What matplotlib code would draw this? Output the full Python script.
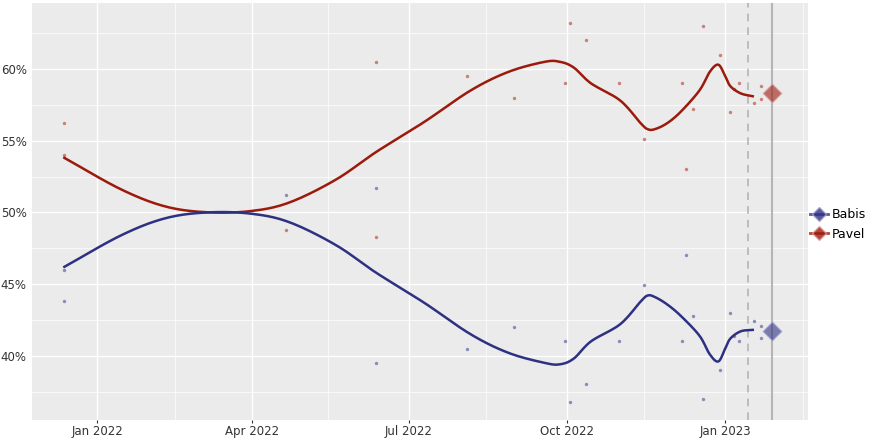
import matplotlib
matplotlib.use("Agg")
import matplotlib.pyplot as plt
import matplotlib.dates as mdates
import numpy as np
import pandas as pd
from matplotlib.lines import Line2D

curve_dates = ["2021-12-13","2022-01-15","2022-02-10","2022-03-07","2022-04-01","2022-04-23","2022-05-20",
               "2022-06-12","2022-07-10","2022-08-06","2022-08-28","2022-09-18","2022-09-27","2022-10-05",
               "2022-10-15","2022-11-01","2022-11-13","2022-11-17","2022-11-21","2022-11-28","2022-12-06",
               "2022-12-17","2022-12-23","2022-12-28","2023-01-01","2023-01-04","2023-01-10","2023-01-17"]
pavel_curve = [53.8,51.6,50.4,50.0,50.1,50.7,52.3,54.2,56.3,58.5,59.8,60.5,60.5,60.1,59.0,57.8,56.2,55.8,55.8,
               56.2,57.0,58.5,59.8,60.3,59.5,58.8,58.3,58.1]
babis_curve = [46.2,48.4,49.6,50.0,49.9,49.3,47.7,45.8,43.7,41.5,40.2,39.5,39.4,39.8,41.0,42.2,43.8,44.2,44.1,
               43.6,42.8,41.4,40.1,39.6,40.5,41.2,41.7,41.8]

poll_dates = ["2021-12-13","2021-12-13","2022-04-21","2022-06-12","2022-06-12","2022-08-04","2022-08-31",
              "2022-09-30","2022-10-03","2022-10-12","2022-10-31","2022-11-15","2022-12-07","2022-12-09",
              "2022-12-13","2022-12-19","2022-12-29","2023-01-04","2023-01-06","2023-01-09","2023-01-18",
              "2023-01-22","2023-01-22"]
pavel_polls = [56.2,54.0,48.8,60.5,48.3,59.5,58.0,59.0,63.2,62.0,59.0,55.1,59.0,53.0,57.2,63.0,61.0,57.0,
               58.6,59.0,57.6,57.9,58.8]
babis_polls = [46.0,43.8,51.2,51.7,39.5,40.5,42.0,41.0,36.8,38.0,41.0,44.9,41.0,47.0,42.8,37.0,39.0,43.0,
               41.4,41.0,42.4,42.1,41.2]

result_date = "2023-01-28"
pavel_result = 58.3
babis_result = 41.7
cutoff_date = "2023-01-14"

red = "#9B1A0C"
blue = "#2E3182"


def smooth(xs, ys, n=12):
    # Catmull-Rom spline through the read-off points (drawing only)
    xs = np.asarray(xs, float); ys = np.asarray(ys, float)
    px = np.concatenate([[2*xs[0]-xs[1]], xs, [2*xs[-1]-xs[-2]]])
    py = np.concatenate([[2*ys[0]-ys[1]], ys, [2*ys[-1]-ys[-2]]])
    ox, oy = [], []
    for i in range(1, len(px)-2):
        t = np.linspace(0, 1, n, endpoint=False)
        for arr, out in ((px, ox), (py, oy)):
            p0, p1, p2, p3 = arr[i-1], arr[i], arr[i+1], arr[i+2]
            out.extend(0.5*((2*p1) + (-p0+p2)*t + (2*p0-5*p1+4*p2-p3)*t**2 + (-p0+3*p1-3*p2+p3)*t**3))
    ox.append(xs[-1]); oy.append(ys[-1])
    return np.array(ox), np.array(oy)


fig = plt.figure(figsize=(8.8, 4.4), dpi=100)
ax = fig.add_axes([0.036, 0.045, 0.882, 0.948])
ax.set_facecolor("#EBEBEB")
cdn = mdates.date2num(pd.to_datetime(curve_dates))
pd_ = pd.to_datetime(poll_dates)
rd = pd.to_datetime(result_date)

ax.scatter(pd_, pavel_polls, s=6, color="#C0655A", alpha=0.8, zorder=3, linewidths=0)
ax.scatter(pd_, babis_polls, s=6, color="#7074B0", alpha=0.8, zorder=3, linewidths=0)
sx, sy = smooth(cdn, pavel_curve)
ax.plot(sx, sy, color=red, lw=1.8, zorder=4)
sx, sy = smooth(cdn, babis_curve)
ax.plot(sx, sy, color=blue, lw=1.8, zorder=4)
ax.axvline(pd.to_datetime(cutoff_date), color="#B0B0B0", ls=(0, (5, 4)), lw=1.1, zorder=2)
ax.axvline(rd, color="#B5B5B5", lw=1.5, zorder=2)
ax.scatter([rd], [pavel_result], marker="D", s=90, color=red, alpha=0.6, edgecolors="#E0A0A0", zorder=5)
ax.scatter([rd], [babis_result], marker="D", s=90, color=blue, alpha=0.6, edgecolors="#A0A0D0", zorder=5)

ax.set_xlim(pd.Timestamp("2021-11-24"), pd.Timestamp("2023-02-18"))
ax.set_ylim(35.5, 64.6)
ax.xaxis.set_major_locator(mdates.MonthLocator(bymonth=[1, 4, 7, 10]))
ax.xaxis.set_major_formatter(mdates.DateFormatter("%b %Y"))
ax.xaxis.set_minor_locator(mdates.MonthLocator(bymonth=[2, 5, 8, 11], bymonthday=15))
ax.set_yticks([40, 45, 50, 55, 60])
ax.set_yticklabels([f"{v}%" for v in [40, 45, 50, 55, 60]])
ax.set_yticks([37.5, 42.5, 47.5, 52.5, 57.5, 62.5], minor=True)
ax.grid(which="major", color="white", lw=1.0)
ax.grid(which="minor", color="white", lw=0.5)
ax.set_axisbelow(True)
for s in ax.spines.values():
    s.set_visible(False)
ax.tick_params(which="both", length=0, labelsize=8.5, colors="#333333")
ax.tick_params(axis="x", which="major", length=2, pad=1.5, color="#333333")

handles = [Line2D([0], [0], color=blue, lw=2, marker="D", markersize=7, markerfacecolor=blue, alpha=0.8, markeredgecolor="#A0A0D0"),
           Line2D([0], [0], color=red, lw=2, marker="D", markersize=7, markerfacecolor=red, alpha=0.8, markeredgecolor="#E0A0A0")]
leg = fig.legend(handles, ["Babis", "Pavel"], loc="center left", bbox_to_anchor=(0.918, 0.49),
                 frameon=False, fontsize=9, handlelength=1.4, handletextpad=0.3, labelspacing=0.5,
                 borderaxespad=0, borderpad=0.2)
plt.savefig("out.png", dpi=100)
